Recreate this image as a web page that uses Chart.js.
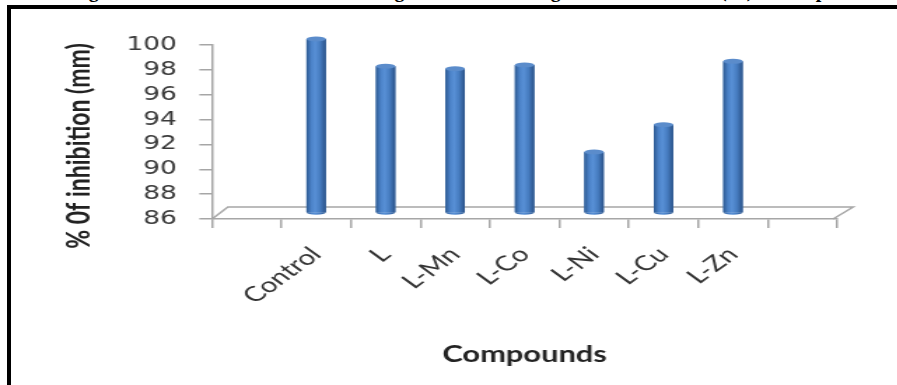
<!DOCTYPE html>
<html>
<head>
<meta charset="utf-8">
<script src="https://cdn.jsdelivr.net/npm/chart.js@4.4.1/dist/chart.umd.min.js"></script>
<style>
  html, body { margin:0; padding:0; background:#fff; width:897px; height:385px; overflow:hidden; }
  #frame { position:absolute; left:7px; top:5px; width:900px; height:400px; border-left:4px solid #000; border-top:4px solid #000; box-sizing:border-box; }
  #caption { position:absolute; left:71px; top:-20px; font:bold 20px "Liberation Serif", "Times New Roman", serif; line-height:20px; white-space:nowrap; color:#000; }
  #wrap { position:absolute; left:0; top:0; width:641px; height:385px; transform:scaleX(1.4); transform-origin:0 0; }
</style>
</head>
<body>
<div id="frame"></div>
<div id="caption">Figure 10: Antibacterial activities of ligand and its analogs: inhibition zones (%) of compounds</div>
<div id="wrap"><canvas id="c" width="641" height="385"></canvas></div>
<script>
// ---- data ----
const categories = ['', 'Control', 'L', 'L-Mn', 'L-Co', 'L-Ni', 'L-Cu', 'L-Zn', ''];
const inhibition = [null, 100, 97.8, 97.6, 97.9, 90.9, 93.1, 98.2, null];
const yMin = 86, yMax = 100, yStep = 2;
const yTitle = '% 0f inhibition (mm)';
const xTitle = 'Compounds';

// ---- 3D-ish look: floor + cylinder shading ----
const DEPTH_X = 11.4, DEPTH_Y = -12;
const look3d = {
  id: 'look3d',
  beforeDatasetsDraw(chart) {
    const ctx = chart.ctx, a = chart.chartArea;
    ctx.save();
    ctx.strokeStyle = '#A6A6A6';
    ctx.lineWidth = 1.5;
    ctx.beginPath();
    ctx.moveTo(a.left, a.bottom);
    ctx.lineTo(a.left + DEPTH_X, a.bottom + DEPTH_Y);
    ctx.lineTo(a.right + DEPTH_X, a.bottom + DEPTH_Y);
    ctx.lineTo(a.right - 3, a.bottom);
    ctx.stroke();
    ctx.restore();
    ctx.save();
    ctx.translate(0, DEPTH_Y / 2);
  },
  afterDatasetsDraw(chart) {
    const ctx = chart.ctx;
    const meta = chart.getDatasetMeta(0);
    meta.data.forEach((el, i) => {
      if (inhibition[i] == null) return;
      const p = el.getProps(['x', 'y', 'base', 'width'], true);
      const l = p.x - p.width / 2, r = p.x + p.width / 2;
      const g = ctx.createLinearGradient(l, 0, r, 0);
      g.addColorStop(0, '#2D5A92');
      g.addColorStop(0.25, '#4B82C8');
      g.addColorStop(0.45, '#5890D6');
      g.addColorStop(0.7, '#467CC0');
      g.addColorStop(1, '#2A5288');
      ctx.fillStyle = g;
      ctx.fillRect(l, p.y, p.width, p.base - p.y);
      ctx.beginPath();
      ctx.ellipse(p.x, p.base, p.width / 2, 2.5, 0, 0, Math.PI);
      ctx.fill();
      ctx.beginPath();
      ctx.ellipse(p.x, p.y, p.width / 2, 2.5, 0, 0, Math.PI * 2);
      ctx.fillStyle = '#5B8CCB';
      ctx.fill();
    });
    ctx.restore();
  }
};

new Chart(document.getElementById('c'), {
  type: 'bar',
  data: {
    labels: categories,
    datasets: [{
      data: inhibition,
      base: yMin,
      backgroundColor: '#4A7EBF',
      borderWidth: 0,
      barPercentage: 0.28,
      categoryPercentage: 1,
      clip: false
    }]
  },
  options: {
    responsive: false,
    animation: false,
    events: [],
    layout: { padding: { left: 0, right: 43, top: 45, bottom: 0 } },
    plugins: { legend: { display: false }, tooltip: { enabled: false } },
    scales: {
      x: {
        afterFit(s) { s.height = 166; },
        grid: { display: true, drawOnChartArea: false, drawTicks: true, tickLength: 9, color: '#A6A6A6', lineWidth: 1.5 },
        border: { display: true, color: '#A6A6A6', width: 1.5 },
        ticks: { autoSkip: false, maxRotation: 45, minRotation: 45, padding: 14, color: '#333', font: { family: 'Lato', size: 21 } },
        title: { display: true, text: xTitle, color: '#222', font: { family: 'Lato', size: 22, weight: 'bold' }, padding: { top: 0, bottom: 17 } }
      },
      y: {
        min: yMin, max: yMax,
        afterFit(s) { s.width = 151.4; },
        grid: { display: true, drawOnChartArea: false, drawTicks: true, tickLength: 9, color: '#A6A6A6', lineWidth: 1.5 },
        border: { display: true, color: '#A6A6A6', width: 1.5 },
        ticks: { stepSize: yStep, autoSkip: false, padding: 16, color: '#3a3a3a', font: { family: 'DejaVu Sans', size: 19 } },
        title: { display: true, text: yTitle + '     ', color: '#222', font: { family: 'Lato', size: 23, weight: 'bold' }, padding: { top: 43, bottom: 0 } }
      }
    }
  },
  plugins: [look3d]
});
</script>
</body>
</html>
